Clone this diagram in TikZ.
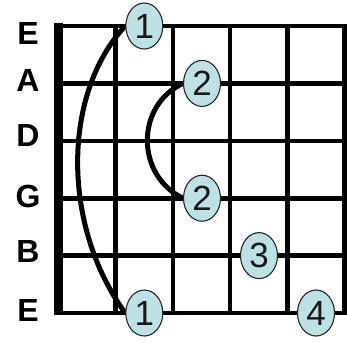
\documentclass[tikz,border=0pt]{standalone}
\usepackage{fontspec}
\setmainfont{Liberation Sans}
\usetikzlibrary{shapes.geometric,backgrounds}
\definecolor{fingerfill}{RGB}{190,225,229}
\tikzset{
  gridline/.style={line width=4.6pt, line cap=rect},
  nutline/.style={line width=9pt},
  strlabel/.style={font=\fontsize{32}{32}\selectfont\bfseries, inner sep=0pt},
  finger/.style={ellipse, draw=black!85, line width=1.1pt, fill=fingerfill,
    minimum width=37pt, minimum height=46pt, inner sep=0pt,
    font=\fontsize{35}{35}\selectfont, text=black!90},
  arcline/.style={line width=5pt}
}
\begin{document}
\begin{tikzpicture}[x=1pt,y=-1pt]
\useasboundingbox (0,0) rectangle (347,341);
% grid
\foreach \y in {26,83.4,140.8,198.2,255.6,313}
  \draw[gridline] (58.5,\y) -- (344.5,\y);
\foreach \x in {115.7,172.9,230.1,287.3,344.5}
  \draw[gridline] (\x,26) -- (\x,313);
\draw[nutline] (58.5,23) -- (58.5,315.3);
% string labels
\node[strlabel] (lE1) at (28,33) {E};
\node[strlabel] (lA) at (28,80) {A};
\node[strlabel] (lD) at (28,135) {D};
\node[strlabel] (lG) at (28,196) {G};
\node[strlabel] (lB) at (28,251) {B};
\node[strlabel] (lE2) at (28,310) {E};
% finger positions
\node[finger] (f1t) at (144.3,26) {1};
\node[finger] (f1b) at (144.3,313) {1};
\node[finger] (f2a) at (202,83.4) {2};
\node[finger] (f2g) at (202,198.2) {2};
\node[finger] (f3) at (259,255.6) {3};
\node[finger] (f4) at (316,313) {4};
% barre arcs, drawn behind fingers
\begin{scope}[on background layer]
\draw[arcline] (f1t.west) .. controls +(-63.5,68) and +(-63.5,-87) .. (f1b.west);
\draw[arcline] (f2a.west) .. controls +(-47.5,22) and +(-47.5,-23) .. (f2g.west);
\end{scope}
\end{tikzpicture}
\end{document}
